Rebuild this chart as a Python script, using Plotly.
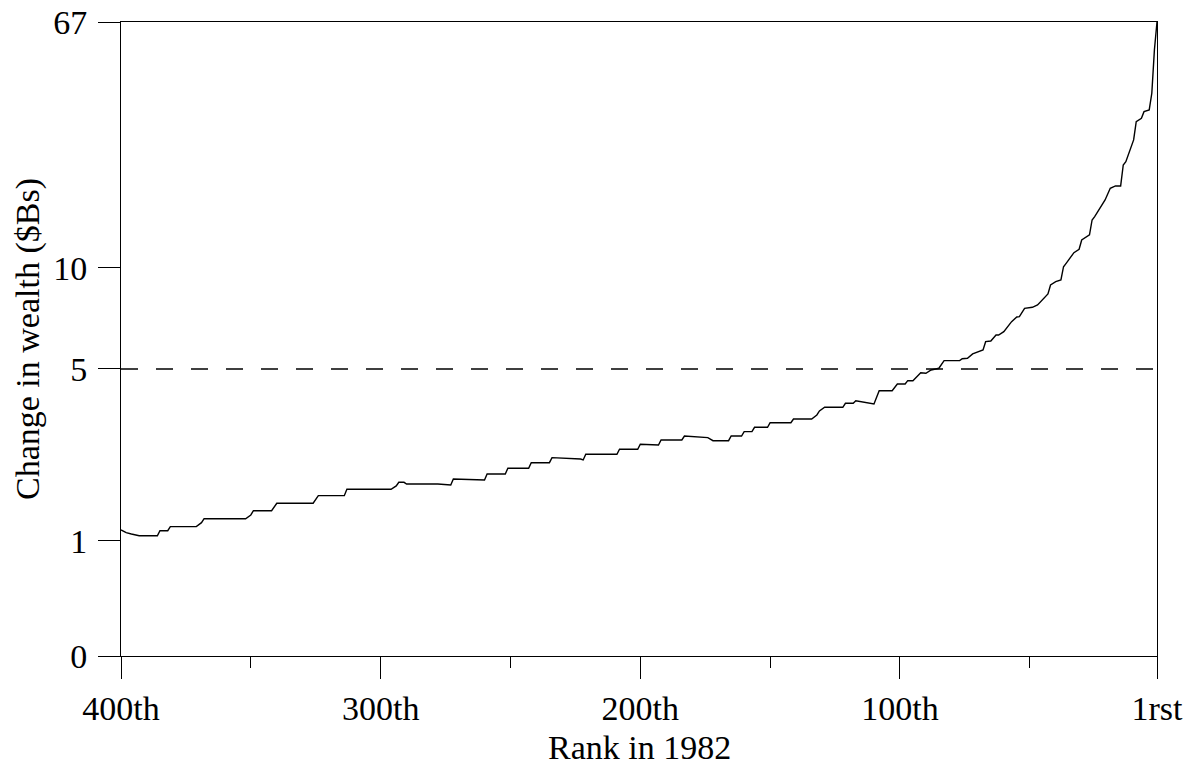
import numpy as np
import plotly.graph_objects as go

# ---- data ----
RANKS = [400, 398, 396, 393, 386, 385, 382, 381, 371, 369, 368, 352, 350, 349, 342, 340,
         326, 325, 324, 314, 313, 296, 294, 293, 291, 290, 278, 273, 272, 260, 259, 252,
         251, 243, 242, 235, 234, 223, 222, 221, 209, 208, 201, 200, 193, 192, 184, 183,
         174, 172, 166, 165, 161, 160, 157, 156, 151, 150, 142, 141, 134, 132, 131, 129,
         122, 121, 118, 117, 110, 108, 103, 101, 98, 97, 95, 92, 90, 88, 85, 83,
         77, 76, 74, 72, 69, 68, 67, 65, 63, 62, 60, 57, 55, 54, 52, 49,
         47, 45, 43, 42, 40, 38, 37, 36, 33, 31, 30, 27, 26, 25, 22, 21,
         19, 17, 15, 14, 13, 11, 10, 9, 7, 6, 4, 3, 2, 1]
WEALTH_CHANGE = [1.134, 1.100, 1.084, 1.063, 1.063, 1.125, 1.125, 1.176, 1.176, 1.228, 1.281, 1.281,
                 1.332, 1.392, 1.392, 1.501, 1.501, 1.561, 1.618, 1.618, 1.721, 1.721, 1.777, 1.840,
                 1.840, 1.811, 1.811, 1.794, 1.898, 1.881, 1.989, 1.989, 2.097, 2.097, 2.208, 2.208,
                 2.311, 2.283, 2.263, 2.383, 2.383, 2.492, 2.492, 2.606, 2.590, 2.708, 2.708, 2.805,
                 2.764, 2.691, 2.691, 2.805, 2.805, 2.914, 2.914, 3.028, 3.028, 3.153, 3.153, 3.256,
                 3.256, 3.371, 3.490, 3.604, 3.604, 3.730, 3.730, 3.814, 3.707, 4.156, 4.156, 4.401,
                 4.401, 4.527, 4.527, 4.845, 4.821, 4.958, 5.025, 5.296, 5.296, 5.369, 5.384, 5.547,
                 5.662, 5.701, 6.037, 6.066, 6.322, 6.322, 6.467, 6.927, 7.154, 7.168, 7.593, 7.645,
                 7.767, 8.037, 8.374, 8.906, 9.109, 9.214, 10.10, 10.37, 11.26, 11.56, 12.43, 12.92,
                 14.51, 14.88, 16.51, 16.94, 18.54, 18.88, 18.88, 22.20, 22.77, 25.57, 26.94, 31.03,
                 31.85, 33.52, 33.97, 38.64, 53.99, 67.0]

Y_TICK_VALUES = [0, 1, 5, 10, 67]
Y_TICK_LABELS = ["0", "1", "5", "10", "67"]
X_TICK_VALUES = [400, 300, 200, 100, 1]
X_TICK_LABELS = ["400th", "300th", "200th", "100th", "1rst"]
X_MINOR_TICKS = [350, 250, 150, 50]
THRESHOLD = 5

X_TITLE = "Rank in 1982"
Y_TITLE = "Change in wealth ($Bs)"

# compressed (asinh-like) vertical scale used by the original figure
SCALE_POS = [0.0, 0.1814, 0.4527, 0.612, 1.0]


def yscale(v):
    return np.interp(np.arcsinh(np.asarray(v, dtype=float)),
                     np.arcsinh(np.asarray(Y_TICK_VALUES, dtype=float)), SCALE_POS)


FONT = "Liberation Serif"
FS = 34

fig = go.Figure()
fig.add_trace(go.Scatter(
    x=RANKS, y=yscale(WEALTH_CHANGE), mode="lines",
    line=dict(color="black", width=1.4), hoverinfo="skip", showlegend=False,
))

fig.add_shape(type="line", xref="x", yref="y", x0=400, x1=1,
              y0=float(yscale(THRESHOLD)), y1=float(yscale(THRESHOLD)),
              line=dict(color="black", width=1.4, dash="17px,18px"))

fig.add_annotation(text=X_TITLE, xref="paper", yref="paper", x=0.5, y=(656 - 747) / 634,
                   xanchor="center", yanchor="middle", showarrow=False,
                   font=dict(family=FONT, size=FS, color="black"))
fig.add_annotation(text=Y_TITLE, xref="paper", yref="paper", x=(28 - 121) / 1036, y=0.5,
                   xanchor="center", yanchor="middle", showarrow=False, textangle=-90,
                   font=dict(family=FONT, size=FS, color="black"))

fig.update_layout(
    width=1191, height=766,
    margin=dict(l=121, r=34, t=22, b=110, autoexpand=False),
    paper_bgcolor="white", plot_bgcolor="white",
    font=dict(family=FONT, size=FS, color="black"),
    xaxis=dict(
        range=[400, 1], tickmode="array", tickvals=X_TICK_VALUES, ticktext=X_TICK_LABELS,
        ticks="outside", ticklen=22, tickwidth=1, tickcolor="black",
        showline=True, mirror=True, linecolor="black", linewidth=1,
        showgrid=False, zeroline=False, automargin=False, ticklabelstandoff=0,
        ticklabeloverflow="allow",
        minor=dict(tickmode="array", tickvals=X_MINOR_TICKS, ticks="outside",
                   ticklen=11, tickwidth=1, tickcolor="black", showgrid=False),
    ),
    yaxis=dict(
        range=[0, 1], tickmode="array", tickvals=list(yscale(Y_TICK_VALUES)),
        ticktext=Y_TICK_LABELS,
        ticks="outside", ticklen=22, tickwidth=1, tickcolor="black",
        showline=True, mirror=True, linecolor="black", linewidth=1,
        showgrid=False, zeroline=False, automargin=False, ticklabelstandoff=4,
        ticklabeloverflow="allow",
    ),
)

# remove the default page margin so the figure sits at the window's top-left corner
fig.write_html("out.html", config={"displayModeBar": False},
               post_script="document.body.style.margin='0';")
